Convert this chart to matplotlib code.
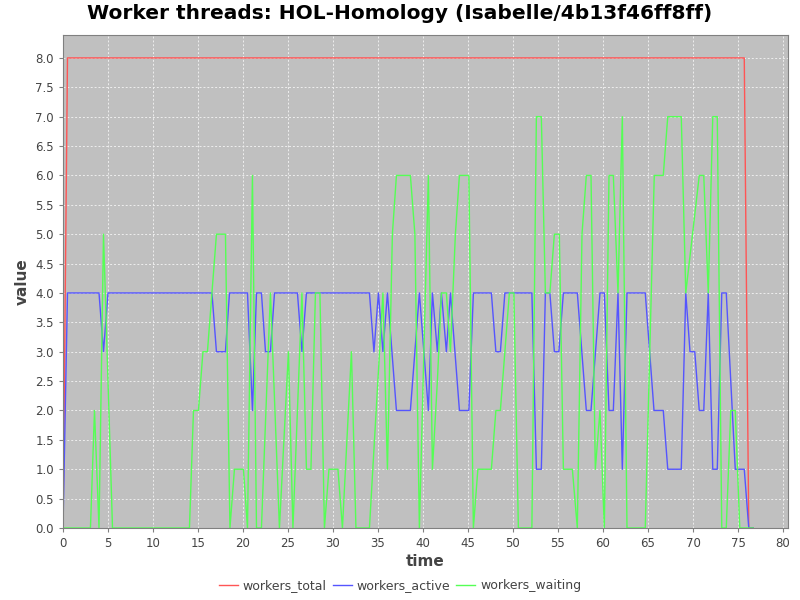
import matplotlib
matplotlib.use("Agg")
import matplotlib.pyplot as plt
from matplotlib.ticker import MultipleLocator, FormatStrFormatter

title = "Worker threads: HOL-Homology (Isabelle/4b13f46ff8ff)"

# workers_total
total_t = [0, 0.5, 75.7, 76.2, 76.7]
total_v = [0, 8, 8, 0, 0]

# workers_active
active_t = [0, 0.5, 4.0, 4.5, 5.0, 16.55, 17.05, 18.05, 18.5, 20.5,
            21.05, 21.5, 22.05, 22.5, 23.05, 23.5, 26.05, 26.55, 27.05, 34.05,
            34.55, 35.05, 35.55, 36.05, 37.05, 38.6, 39.6, 40.6, 41.05, 41.6,
            42.05, 42.6, 43.05, 44.05, 45.1, 45.6, 47.6, 48.1, 48.6, 49.1,
            52.1, 52.6, 53.15, 53.6, 54.1, 54.6, 55.1, 55.6, 57.15, 58.15,
            58.67, 59.67, 60.15, 60.67, 61.15, 61.67, 62.15, 62.67, 64.7, 65.67,
            66.7, 67.2, 68.7, 69.2, 69.67, 70.2, 70.7, 71.2, 71.7, 72.2,
            72.7, 73.2, 73.7, 74.7, 75.7, 76.2, 76.7]
active_v = [0, 4, 4, 3, 4, 4, 3, 3, 4, 4,
            2, 4, 4, 3, 3, 4, 4, 3, 4, 4,
            3, 4, 3, 4, 2, 2, 4, 2, 4, 3,
            4, 3, 4, 2, 2, 4, 4, 3, 3, 4,
            4, 1, 1, 4, 4, 3, 3, 4, 4, 2,
            2, 4, 4, 2, 2, 4, 1, 4, 4, 2,
            2, 1, 1, 4, 3, 3, 2, 2, 4, 1,
            1, 4, 4, 1, 1, 0, 0]

# workers_waiting
waiting_t = [0, 3.05, 3.5, 4.0, 4.5, 5.5, 14.05, 14.5, 15.05, 15.55,
             16.05, 17.05, 18.05, 18.55, 19.05, 20.05, 20.5, 21.05, 21.5, 22.05,
             23.05, 24.05, 25.05, 25.55, 26.55, 27.05, 27.55, 28.05, 28.55, 29.05,
             29.55, 30.55, 31.05, 32.05, 32.55, 34.05, 35.55, 36.05, 36.6, 37.05,
             38.6, 39.1, 39.6, 40.6, 41.05, 41.6, 42.05, 42.6, 43.05, 43.6,
             44.05, 45.1, 45.6, 46.1, 47.6, 48.1, 48.6, 49.6, 50.1, 50.6,
             52.1, 52.6, 53.15, 53.6, 54.1, 54.6, 55.15, 55.6, 56.6, 57.15,
             57.67, 58.15, 58.67, 59.15, 59.67, 60.15, 60.67, 61.15, 61.67, 62.15,
             62.67, 64.7, 65.7, 66.7, 67.2, 68.7, 69.2, 70.7, 71.2, 71.7,
             72.2, 72.7, 73.2, 73.7, 74.2, 74.7, 75.2, 76.7]
waiting_v = [0, 0, 2, 0, 5, 0, 0, 2, 2, 3,
             3, 5, 5, 0, 1, 1, 0, 6, 0, 0,
             4, 0, 3, 0, 4, 1, 1, 4, 4, 0,
             1, 1, 0, 3, 0, 0, 4, 1, 5, 6,
             6, 5, 0, 6, 1, 2.5, 4, 4, 3, 5,
             6, 6, 0, 1, 1, 2, 2, 4, 4, 0,
             0, 7, 7, 4, 4, 5, 5, 1, 1, 0,
             5, 6, 6, 1, 2, 0, 6, 6, 4, 7,
             0, 0, 6, 6, 7, 7, 4, 6, 6, 4,
             7, 7, 0, 0, 2, 2, 0, 0]

fig = plt.figure(figsize=(8, 6), dpi=100)
ax = fig.add_axes([63 / 800, 1 - 528 / 600, (788 - 63) / 800, (528 - 35) / 600])
ax.set_facecolor("#c0c0c0")

ax.plot(total_t, total_v, color="#ff5555", lw=1, label="workers_total")
ax.plot(active_t, active_v, color="#5555ff", lw=1, label="workers_active")
ax.plot(waiting_t, waiting_v, color="#55ff55", lw=1, label="workers_waiting")

ax.set_xlim(0, 80.56)
ax.set_ylim(0, 8.39)
ax.xaxis.set_major_locator(MultipleLocator(5))
ax.yaxis.set_major_locator(MultipleLocator(0.5))
ax.yaxis.set_major_formatter(FormatStrFormatter("%.1f"))
ax.grid(True, color="#eeeeee", ls=(0, (2, 2)), lw=0.7)
ax.set_axisbelow(True)

for s in ax.spines.values():
    s.set_color("#808080")
ax.tick_params(colors="#808080", labelcolor="#444444", labelsize=8.5, length=3)

ax.set_xlabel("time", fontsize=11, fontweight="bold", color="#444444", labelpad=3)
ax.set_ylabel("value", fontsize=11, fontweight="bold", color="#444444", labelpad=4)
fig.suptitle(title, fontsize=14.5, fontweight="bold", x=0.5, y=0.993)

fig.legend(loc="lower center", ncol=3, frameon=False, fontsize=9,
           bbox_to_anchor=(0.5, -0.006), handlelength=1.5, handletextpad=0.4,
           columnspacing=0.5, labelcolor="#444444")

fig.savefig("out.png", dpi=100)
